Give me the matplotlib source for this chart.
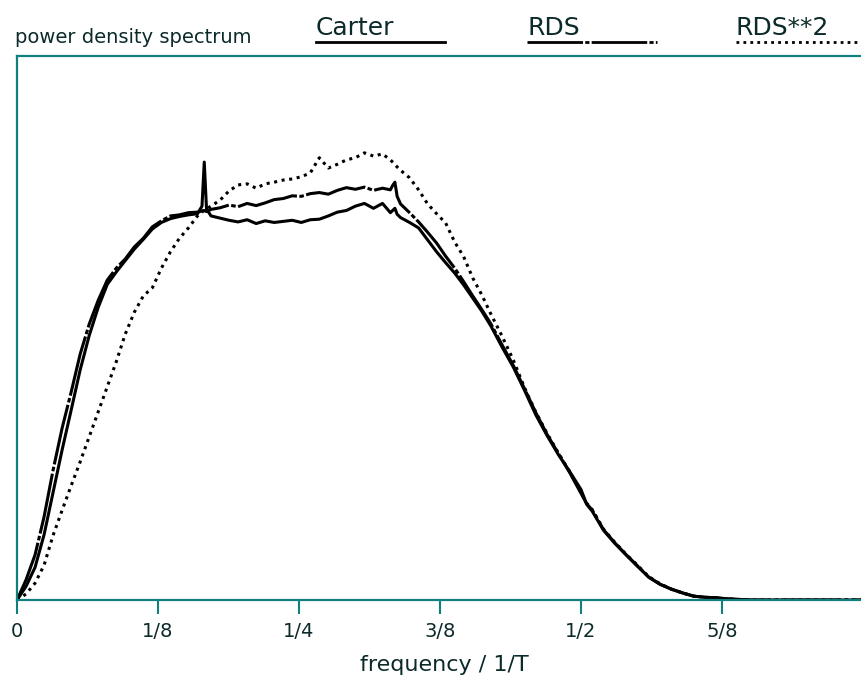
import matplotlib
matplotlib.use("Agg")
from matplotlib import pyplot as plt
from matplotlib.lines import Line2D

# frequency in units of 1/T
freq = [0.000, 0.008, 0.016, 0.024, 0.032, 0.040, 0.048, 0.056, 0.064, 0.072,
        0.080, 0.088, 0.096, 0.104, 0.112, 0.120, 0.128, 0.136, 0.144, 0.152,
        0.160, 0.164, 0.166, 0.168, 0.172, 0.180, 0.188, 0.196, 0.204, 0.212,
        0.220, 0.228, 0.236, 0.244, 0.252, 0.260, 0.268, 0.276, 0.284, 0.292,
        0.300, 0.308, 0.316, 0.324, 0.331, 0.333, 0.335, 0.337, 0.340, 0.348,
        0.356, 0.364, 0.372, 0.380, 0.388, 0.396, 0.404, 0.412, 0.420, 0.430,
        0.440, 0.450, 0.460, 0.470, 0.480, 0.490, 0.500, 0.505, 0.510, 0.520,
        0.530, 0.540, 0.550, 0.560, 0.570, 0.580, 0.590, 0.600, 0.610, 0.620,
        0.630, 0.640, 0.650, 0.670, 0.700, 0.750]

carter = [0.0, 2.5, 6.0, 12.0, 19.8, 27.6, 34.9, 42.3, 48.6, 53.8,
          58.0, 60.3, 62.4, 64.5, 66.3, 68.2, 69.4, 70.1, 70.5, 70.8,
          71.0, 72.4, 80.5, 71.9, 70.6, 70.2, 69.8, 69.5, 69.9, 69.2,
          69.7, 69.4, 69.6, 69.8, 69.4, 69.9, 70.0, 70.6, 71.3, 71.6,
          72.4, 72.9, 72.0, 72.9, 71.2, 71.6, 72.0, 70.9, 70.3, 69.4,
          68.4, 66.2, 64.0, 62.0, 60.1, 57.9, 55.5, 53.1, 50.4, 46.5,
          42.8, 38.5, 34.0, 30.2, 26.7, 23.6, 20.3, 17.6, 16.3, 12.8,
          10.4, 8.3, 6.2, 4.2, 2.9, 2.0, 1.3, 0.7, 0.5, 0.4,
          0.2, 0.1, 0.0, 0.0, 0.0, 0.0]

rds = [0.0, 3.7, 8.3, 15.3, 23.9, 31.6, 38.2, 45.2, 50.7, 55.1,
       58.8, 61.0, 62.7, 64.9, 66.5, 68.6, 69.7, 70.6, 70.8, 71.2,
       71.3, 71.5, 71.6, 71.4, 71.8, 72.1, 72.6, 72.3, 72.9, 72.5,
       73.0, 73.6, 73.8, 74.3, 74.2, 74.7, 74.9, 74.6, 75.3, 75.8,
       75.5, 75.9, 75.3, 75.7, 75.4, 76.2, 76.8, 74.2, 72.8, 71.2,
       69.5, 67.6, 65.6, 63.2, 61.0, 58.5, 55.9, 53.4, 50.8, 46.9,
       43.1, 38.8, 34.4, 30.4, 26.9, 23.4, 19.6, 17.7, 16.5, 12.9,
       10.5, 8.3, 6.3, 4.2, 2.9, 2.0, 1.3, 0.7, 0.5, 0.4,
       0.2, 0.1, 0.0, 0.0, 0.0, 0.0]

rds2 = [0.0, 1.1, 3.1, 6.4, 11.9, 16.5, 21.0, 25.4, 30.0, 34.6,
        39.2, 43.8, 48.9, 52.9, 55.9, 57.4, 61.0, 64.0, 66.5, 68.4,
        70.6, 71.3, 71.7, 71.9, 72.4, 73.5, 75.2, 76.3, 76.5, 75.7,
        76.5, 76.8, 77.2, 77.4, 77.8, 78.5, 81.3, 79.4, 80.1, 80.9,
        81.3, 82.2, 81.6, 82.0, 80.9, 80.5, 80.1, 79.6, 79.0, 77.6,
        75.4, 72.8, 71.0, 69.3, 65.8, 63.1, 59.2, 56.1, 52.6, 48.5,
        44.1, 39.0, 34.5, 30.6, 27.0, 23.6, 19.7, 17.8, 16.6, 13.0,
        10.6, 8.4, 6.4, 4.3, 3.0, 2.0, 1.3, 0.7, 0.5, 0.4,
        0.2, 0.1, 0.0, 0.0, 0.0, 0.0]

tick_pos = [0, 0.125, 0.25, 0.375, 0.5, 0.625]
tick_lab = ["0", "1/8", "1/4", "3/8", "1/2", "5/8"]

axcol = "#10807c"
txtcol = "#0c2a2a"
rds_style = (0, (20, 0.8, 1.5, 0.8))
dot_style = (0, (1, 1.5))

fig = plt.figure(figsize=(8.61, 6.81), dpi=100)
ax = fig.add_axes([17 / 861, 81 / 681, 1 - 17 / 861, 544 / 681])

ax.plot(freq, carter, color="black", lw=2.2, solid_joinstyle="round")
ax.plot(freq, rds, color="black", lw=2.2, linestyle=rds_style)
ax.plot(freq, rds2, color="black", lw=2.2, linestyle=dot_style)

ax.set_xlim(0, 0.7482)
ax.set_ylim(0, 100)
ax.set_yticks([])
ax.set_xticks(tick_pos)
ax.set_xticklabels(tick_lab, fontsize=14, color=txtcol)
ax.tick_params(axis="x", direction="out", length=10, width=1.5, color=axcol, pad=6)

for s in ["left", "bottom", "top"]:
    ax.spines[s].set_color(axcol)
    ax.spines[s].set_linewidth(1.6)
ax.spines["right"].set_visible(False)

fig.text(444 / 861, 10 / 681, "frequency / 1/T", fontsize=16, color=txtcol,
         ha="center", va="baseline")

# header with title and line key
fig.text(15 / 861, (681 - 43) / 681, "power density spectrum", fontsize=14,
         color=txtcol, va="baseline")
keys = [("Carter", 316, 445, "-"), ("RDS", 527, 657, rds_style),
        ("RDS**2", 736, 861, dot_style)]
for lab, x0, x1, ls in keys:
    fig.text(x0 / 861, (681 - 35) / 681, lab, fontsize=18, color=txtcol,
             va="baseline")
    fig.add_artist(Line2D([x0 / 861, x1 / 861], [(681 - 42) / 681] * 2,
                          transform=fig.transFigure, color="black", lw=2.0,
                          linestyle=ls))

fig.savefig("out.png", dpi=100)
